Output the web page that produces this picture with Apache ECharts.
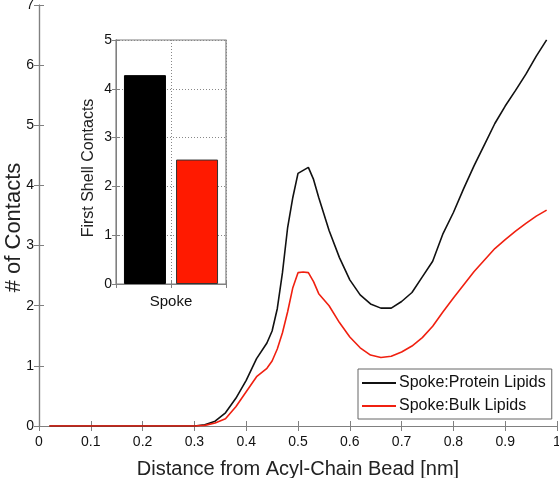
<!DOCTYPE html>
<html><head><meta charset="utf-8">
<script src="https://cdn.jsdelivr.net/npm/echarts@6/dist/echarts.min.js"></script>
<style>html,body{margin:0;padding:0;background:#fff}#c{width:559px;height:478px}</style>
</head><body><div id="c"></div>
<script>
const xs = [0.02,0.1,0.2,0.3,0.32,0.34,0.36,0.38,0.40,0.42,0.44,0.45,0.46,0.47,0.48,0.49,0.50,0.51,0.52,0.53,0.54,0.56,0.58,0.60,0.62,0.64,0.66,0.68,0.70,0.72,0.74,0.76,0.78,0.80,0.82,0.84,0.86,0.88,0.90,0.92,0.94,0.96,0.98];
const protein = [0,0,0,0,0.02,0.08,0.22,0.46,0.76,1.12,1.38,1.58,1.95,2.55,3.3,3.8,4.2,4.25,4.30,4.1,3.8,3.25,2.8,2.43,2.18,2.03,1.96,1.96,2.07,2.22,2.48,2.74,3.2,3.55,3.95,4.33,4.68,5.03,5.32,5.58,5.85,6.15,6.42];
const bulk = [0,0,0,0,0.01,0.05,0.12,0.32,0.57,0.82,0.96,1.08,1.28,1.55,1.9,2.3,2.55,2.56,2.55,2.4,2.2,2.0,1.72,1.48,1.3,1.18,1.14,1.16,1.23,1.33,1.47,1.66,1.9,2.13,2.35,2.57,2.76,2.95,3.1,3.24,3.37,3.49,3.59];
const seriesNames = ['Spoke:Protein Lipids','Spoke:Bulk Lipids'];
const insetCategory = 'Spoke';
const insetValues = [4.28, 2.55];

const pair = (a) => xs.map((x,i)=>[x,a[i]]);
const frame = '#808080';
const FF = 'Liberation Sans, Arial, sans-serif';
const txt = {color:'#111', fontFamily:FF, fontSize:14};
const chart = echarts.init(document.getElementById('c'));
chart.setOption({
  animation:false,
  grid:[
    {left:39, top:5, width:518, height:421, show:false, outerBoundsMode:'none', containLabel:false},
    {left:116, top:40, width:110, height:244, show:true, borderColor:frame, borderWidth:1.2, outerBoundsMode:'none', containLabel:false}
  ],
  legend:{
    data:seriesNames, orient:'vertical', left:358, top:369, width:195,
    padding:[6,6,5,4], itemGap:7, itemWidth:34, itemHeight:2, icon:'rect',
    borderColor:'#666', borderWidth:1, backgroundColor:'#fff',
    textStyle:{color:'#111', fontFamily:FF, fontSize:16, padding:[0,0,0,-2]},
    z:10
  },
  xAxis:[
    {type:'value', gridIndex:0, min:0, max:1, interval:0.1,
     name:'Distance from Acyl-Chain Bead [nm]', nameLocation:'middle', nameGap:33,
     nameTextStyle:{color:'#222', fontFamily:FF, fontSize:20},
     axisLine:{lineStyle:{color:frame, width:1.2}},
     axisTick:{inside:true, length:5, lineStyle:{color:frame}},
     axisLabel:{...txt, margin:9, formatter:v=>String(+v.toFixed(1))},
     splitLine:{show:false}},
    {type:'value', gridIndex:0, min:0, max:1, interval:0.1, position:'top',
     axisLine:{lineStyle:{color:frame, width:1.2}},
     axisTick:{inside:true, length:5, lineStyle:{color:frame}},
     axisLabel:{show:false}, splitLine:{show:false}},
    {type:'value', gridIndex:1, min:0, max:2, interval:1,
     axisLine:{lineStyle:{color:frame}},
     axisTick:{inside:true, length:4, lineStyle:{color:frame}},
     axisLabel:{...txt, fontSize:15, margin:10, formatter:v=>v===1?insetCategory:''},
     splitLine:{show:true, lineStyle:{type:[1,2], color:'#888'}}},
    {type:'value', gridIndex:1, min:0, max:2, interval:1, position:'top',
     axisLine:{lineStyle:{color:frame}},
     axisTick:{inside:true, length:4, lineStyle:{color:frame}},
     axisLabel:{show:false}, splitLine:{show:false}}
  ],
  yAxis:[
    {type:'value', gridIndex:0, min:0, max:7, interval:1,
     name:'# of Contacts', nameLocation:'middle', nameGap:14, nameRotate:90, nameMoveOverlap:false,
     nameTextStyle:{color:'#222', fontFamily:FF, fontSize:22, padding:[0,24,0,0]},
     axisLine:{lineStyle:{color:frame, width:1.2}},
     axisTick:{inside:true, length:5, lineStyle:{color:frame}},
     axisLabel:{...txt, margin:5},
     splitLine:{show:false}},
    {type:'value', gridIndex:0, min:0, max:7, interval:1, position:'right',
     axisLine:{lineStyle:{color:frame, width:1.2}},
     axisTick:{inside:true, length:5, lineStyle:{color:frame}},
     axisLabel:{show:false}, splitLine:{show:false}},
    {type:'value', gridIndex:1, min:0, max:5, interval:1,
     name:'First Shell Contacts', nameLocation:'middle', nameGap:19, nameRotate:90, nameMoveOverlap:false,
     nameTextStyle:{color:'#222', fontFamily:FF, fontSize:16, padding:[0,12,0,0]},
     axisLine:{lineStyle:{color:frame}},
     axisTick:{inside:true, length:4, lineStyle:{color:frame}},
     axisLabel:{...txt, margin:4},
     splitLine:{show:true, lineStyle:{type:[1,2], color:'#888'}}},
    {type:'value', gridIndex:1, min:0, max:5, interval:1, position:'right',
     axisLine:{lineStyle:{color:frame}},
     axisTick:{inside:true, length:4, lineStyle:{color:frame}},
     axisLabel:{show:false}, splitLine:{show:false}}
  ],
  series:[
    {name:seriesNames[0], type:'line', xAxisIndex:0, yAxisIndex:0, data:pair(protein),
     showSymbol:false, symbol:'none', lineStyle:{color:'#111', width:1.6}, itemStyle:{color:'#111'}, z:3},
    {name:seriesNames[1], type:'line', xAxisIndex:0, yAxisIndex:0, data:pair(bulk),
     showSymbol:false, symbol:'none', lineStyle:{color:'#f02010', width:1.6}, itemStyle:{color:'#f02010'}, z:3},
    {type:'bar', xAxisIndex:2, yAxisIndex:2, data:[[1,insetValues[0]]], barWidth:42, barGap:'24%',
     itemStyle:{color:'#000', borderColor:'#000', borderWidth:1}, z:6},
    {type:'bar', xAxisIndex:2, yAxisIndex:2, data:[[1,insetValues[1]]], barWidth:42, barGap:'24%',
     itemStyle:{color:'#ff1a00', borderColor:'#333', borderWidth:1}, z:6}
  ]
});
</script></body></html>
